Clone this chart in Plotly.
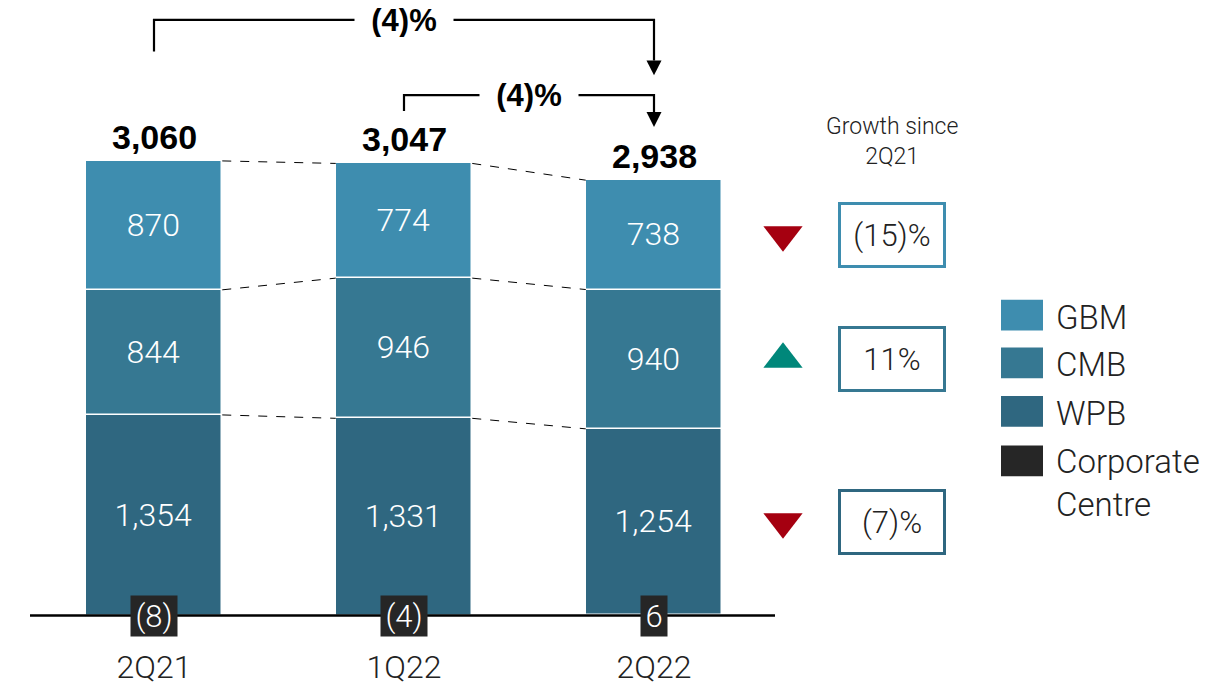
import plotly.graph_objects as go

# ---- data -------------------------------------------------------------
quarters = ["2Q21", "1Q22", "2Q22"]
wpb = [1354, 1331, 1254]
cmb = [844, 946, 940]
gbm = [870, 774, 738]
corporate = [-8, -4, 6]

growth_segments = ["GBM", "CMB", "WPB"]
growth = [-15, 11, -7]                 # % change 2Q22 vs 2Q21
bracket_changes = [-4, -4]             # 2Q22 vs 2Q21, 2Q22 vs 1Q22

colors = {
    "GBM": "#3E8DAF",
    "CMB": "#367892",
    "WPB": "#2F6780",
    "Corporate Centre": "#262626",
}
RED, TEAL = "#A50010", "#00877A"

# ---- layout helpers (pixel -> data coordinates) ------------------------
W, H = 1223, 686
BASE_PX = 621          # baseline position
PX_PER_UNIT = 0.1495   # vertical scale
X0_PX, STEP_PX = 154, 250
BAR_W = 0.546


def xd(px):
    return (px - X0_PX) / STEP_PX


def yd(py):
    return (BASE_PX - py) / PX_PER_UNIT


def pct(v):
    return f"({abs(v)})%" if v < 0 else f"{v}%"


def num(v):
    return f"({abs(v):,})" if v < 0 else f"{v:,}"


LIGHT = dict(family="Roboto", weight=300)
BOLD = dict(family="Liberation Sans", weight=700)

xs = list(range(len(quarters)))
totals = [w + c + g + k for w, c, g, k in zip(wpb, cmb, gbm, corporate)]

# cumulative tops of each stacked segment
base = [max(k, 0) for k in corporate]
top_wpb = [b + v for b, v in zip(base, wpb)]
top_cmb = [t + v for t, v in zip(top_wpb, cmb)]
top_gbm = [t + v for t, v in zip(top_cmb, gbm)]

fig = go.Figure()

fig.add_trace(go.Bar(
    x=xs, y=corporate, width=BAR_W, name="Corporate Centre",
    marker=dict(color=colors["Corporate Centre"], line=dict(color="white", width=1)),
    showlegend=False, hoverinfo="skip",
))
for name, vals in [("WPB", wpb), ("CMB", cmb), ("GBM", gbm)]:
    fig.add_trace(go.Bar(
        x=xs, y=vals, width=BAR_W, name=name,
        marker=dict(color=colors[name], line=dict(color="white", width=1.5)),
        texttemplate="%{y:,}", textposition="inside", insidetextanchor="middle",
        textangle=0,
        textfont=dict(color="white", size=32, **LIGHT),
        showlegend=False,
    ))

# growth arrows next to the latest bar
mids = [
    (top_cmb[-1] + top_gbm[-1]) / 2,
    (top_wpb[-1] + top_cmb[-1]) / 2,
    (base[-1] + top_wpb[-1]) / 2,
]
fig.add_trace(go.Scatter(
    x=[xd(783)] * 3, y=mids, mode="markers", showlegend=False, hoverinfo="skip",
    marker=dict(
        symbol=["triangle-up" if g > 0 else "triangle-down" for g in growth],
        color=[TEAL if g > 0 else RED for g in growth],
        size=34, line=dict(width=0),
    ),
))

shapes = []
annotations = []

# baseline
shapes.append(dict(type="line", x0=xd(30), x1=xd(775), y0=0, y1=0,
                   line=dict(color="black", width=2.5), layer="above"))

# dashed connectors between segment tops
for levels in (top_wpb, top_cmb, top_gbm):
    for i in range(len(xs) - 1):
        shapes.append(dict(type="line",
                           x0=xs[i] + BAR_W / 2, y0=levels[i],
                           x1=xs[i + 1] - BAR_W / 2, y1=levels[i + 1],
                           line=dict(color="black", width=1, dash="dash")))

# totals
for i, t in enumerate(totals):
    annotations.append(dict(x=xs[i], y=top_gbm[i], text=f"{t:,}", showarrow=False,
                            yanchor="bottom", yshift=3,
                            font=dict(size=34, color="black", **BOLD)))

# corporate centre labels
for i, v in enumerate(corporate):
    label = num(v)
    annotations.append(dict(x=xs[i], y=0, text=label, showarrow=False,
                            bgcolor=colors["Corporate Centre"], borderpad=2,
                            width=12 + 10 * len(label), height=36,
                            font=dict(size=31, color="white", **LIGHT)))

# change brackets above the bars
brackets = [(0, 2, 52, 20, 76, bracket_changes[0]),
            (1, 2, 112, 96, 128, bracket_changes[1])]
for xa, xb, start_px, level_px, tip_px, chg in brackets:
    head_px = tip_px - 15
    shapes.append(dict(type="path",
                       path=f"M {xa},{yd(start_px)} L {xa},{yd(level_px)} "
                            f"L {xb},{yd(level_px)} L {xb},{yd(head_px)}",
                       line=dict(color="black", width=2.2)))
    hw = 7.5 / STEP_PX
    shapes.append(dict(type="path",
                       path=f"M {xb - hw},{yd(head_px)} L {xb + hw},{yd(head_px)} "
                            f"L {xb},{yd(tip_px)} Z",
                       fillcolor="black", line=dict(color="black", width=0)))
    annotations.append(dict(x=(xa + xb) / 2, y=yd(level_px), text=pct(chg),
                            showarrow=False, bgcolor="white", width=96, height=34,
                            font=dict(size=31, color="black", **BOLD)))

# growth panel
annotations.append(dict(x=xd(892), y=yd(143), text="Growth since<br>2Q21",
                        showarrow=False, font=dict(size=23, color="#222222", **LIGHT)))
for seg, g, m in zip(growth_segments, growth, mids):
    annotations.append(dict(x=xd(892), y=m, text=pct(g), showarrow=False,
                            width=102, height=60, bgcolor="white",
                            bordercolor=colors[seg], borderwidth=3, borderpad=0,
                            font=dict(size=31, color="#222222", **LIGHT)))

# legend
legend_items = [("GBM", 318, "GBM"), ("CMB", 366, "CMB"), ("WPB", 415, "WPB"),
                ("Corporate Centre", 465, "Corporate<br>Centre")]
for key, cy, label in legend_items:
    shapes.append(dict(type="rect", x0=xd(1001), x1=xd(1043),
                       y0=yd(cy - 15.5), y1=yd(cy + 15.5),
                       fillcolor=colors[key], line=dict(width=0)))
    n_lines = label.count("<br>") + 1
    annotations.append(dict(x=xd(1054), y=yd(cy + 2 + (n_lines - 1) * 20), text=label,
                            xanchor="left", showarrow=False, align="left",
                            font=dict(size=33, color="#222222", **LIGHT)))

fig.update_layout(
    width=W, height=H,
    margin=dict(l=0, r=0, t=0, b=0),
    barmode="relative", bargap=0,
    plot_bgcolor="white", paper_bgcolor="white",
    shapes=shapes, annotations=annotations,
    showlegend=False,
    xaxis=dict(range=[xd(0), xd(W)], tickvals=xs, ticktext=quarters,
               showgrid=False, zeroline=False, showline=False,
               anchor="free", position=(H - BASE_PX) / H,
               ticks="", ticklabelstandoff=29,
               tickfont=dict(size=32, color="#222222", **LIGHT)),
    yaxis=dict(range=[yd(H), yd(0)], visible=False),
)

fig.write_html("out.html")
